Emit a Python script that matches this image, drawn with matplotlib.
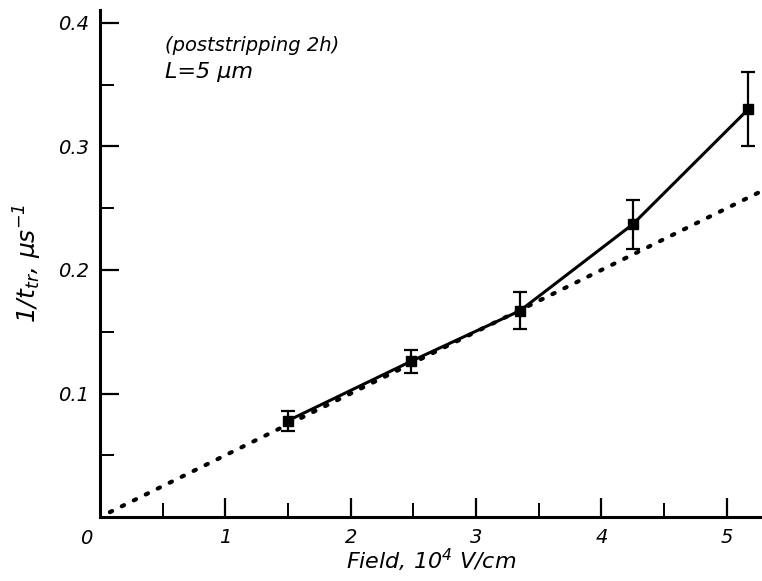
import matplotlib
matplotlib.use("Agg")
import matplotlib.pyplot as plt
from matplotlib.ticker import MultipleLocator

# data
field = [1.5, 2.48, 3.35, 4.25, 5.17]
inv_ttr = [0.078, 0.126, 0.167, 0.237, 0.330]
err = [0.008, 0.009, 0.015, 0.020, 0.030]

# dotted linear guide, 1/t_tr = 0.05 * E
fit_x = [0.08, 5.3]
fit_slope = 0.05

x_ticks = [1, 2, 3, 4, 5]
y_ticks = [0.1, 0.2, 0.3, 0.4]

plt.rcParams['font.family'] = ['DejaVu Sans']
plt.rcParams['font.style'] = 'italic'

fig = plt.figure(figsize=(7.62, 5.81), dpi=100)
ax = fig.add_axes([0.131, 0.110, 0.869, 0.872])

ax.plot(fit_x, [fit_slope * v for v in fit_x], linestyle=(0, (0.6, 2.6)),
        color='black', linewidth=3.0, dash_capstyle='round')
ax.errorbar(field, inv_ttr, yerr=err, color='black', linewidth=2.2,
            marker='s', markersize=7, capsize=5, elinewidth=1.6,
            capthick=1.6)

ax.set_xlim(0, 5.28)
ax.set_ylim(0, 0.41)
ax.set_xticks(x_ticks)
ax.set_yticks(y_ticks)
ax.set_yticklabels([f'{v:.1f}' for v in y_ticks])
ax.xaxis.set_minor_locator(MultipleLocator(0.5))
ax.yaxis.set_minor_locator(MultipleLocator(0.05))
ax.tick_params(which='major', direction='in', length=14, width=1.6,
               labelsize=14, pad=8)
ax.tick_params(which='minor', direction='in', length=10, width=1.4)

for side in ['top', 'right']:
    ax.spines[side].set_visible(False)
for side in ['left', 'bottom']:
    ax.spines[side].set_linewidth(2.2)

ax.text(-0.11, -0.010, '0', fontsize=14, ha='center', va='top')

ax.set_xlabel('Field, 10$^{4}$ V/cm', fontsize=16, labelpad=0)
ax.set_ylabel('1/t$_{tr}$, μs$^{-1}$', fontsize=18, labelpad=10)

ax.text(0.52, 0.382, '(poststripping 2h)', fontsize=14, va='center')
ax.text(0.52, 0.360, 'L=5 μm', fontsize=16, va='center')

fig.savefig('out.png', dpi=100)
